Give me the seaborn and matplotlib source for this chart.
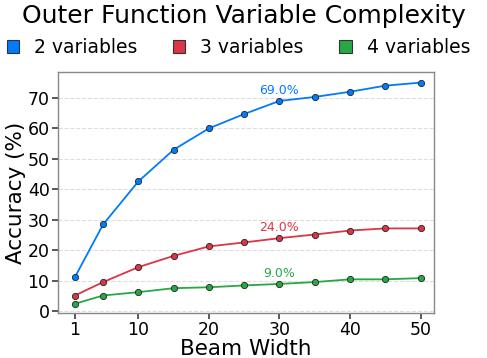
import matplotlib
matplotlib.use("Agg")
import matplotlib.pyplot as plt
import seaborn as sns
import pandas as pd
from matplotlib.patches import Patch

beam_width = [1, 5, 10, 15, 20, 25, 30, 35, 40, 45, 50]
vars2 = [11.2, 28.5, 42.6, 53.0, 60.0, 64.7, 69.0, 70.3, 72.0, 74.0, 75.0]
vars3 = [5.2, 9.6, 14.5, 18.2, 21.3, 22.6, 24.0, 25.2, 26.5, 27.2, 27.2]
vars4 = [2.5, 5.2, 6.3, 7.6, 7.9, 8.5, 9.0, 9.6, 10.5, 10.5, 10.9]
series_names = ["2 variables", "3 variables", "4 variables"]
colors = ["#007bff", "#dc3545", "#28a745"]
x_ticks = [1, 10, 20, 30, 40, 50]
annot_x = 30

sns.set_theme(style="white")
plt.rcParams['font.family'] = ['DejaVu Sans']
plt.rcParams['text.color'] = 'black'
plt.rcParams['axes.labelcolor'] = 'black'
plt.rcParams['xtick.color'] = 'black'
plt.rcParams['ytick.color'] = 'black'

df = pd.concat([
    pd.DataFrame({"Beam Width": beam_width, "Accuracy": v, "Series": n})
    for v, n in zip([vars2, vars3, vars4], series_names)
])

fig = plt.figure(figsize=(4.87, 3.58), dpi=100)
ax = fig.add_axes([0.119, 0.126, 0.772, 0.673])
palette = dict(zip(series_names, colors))
sns.lineplot(data=df, x="Beam Width", y="Accuracy", hue="Series", palette=palette,
             marker="o", markersize=4.5, markeredgecolor="#222222", markeredgewidth=0.6,
             linewidth=1.3, ax=ax, legend=False)

for vals, c in zip([vars2, vars3, vars4], colors):
    i = beam_width.index(annot_x)
    ax.annotate(f"{vals[i]:.1f}%", (annot_x, vals[i]), xytext=(0, 3), textcoords="offset points",
                ha="center", va="bottom", color=c, fontsize=9)

ax.set_xlim(-1.4, 51.9)
ax.set_ylim(-0.5, 78.5)
ax.set_xticks(x_ticks)
ax.set_yticks(range(0, 80, 10))
ax.tick_params(axis="both", labelsize=12.5, length=4, pad=2, color="#444444", bottom=True, left=True)
ax.yaxis.grid(True, linestyle="--", color="#dddddd", linewidth=0.8)
ax.xaxis.grid(False)
for s in ax.spines.values():
    s.set_color("#888888")
    s.set_linewidth(1.0)
ax.set_xlabel("Beam Width", fontsize=15.5, labelpad=0)
ax.set_ylabel("Accuracy (%)", fontsize=15.5, labelpad=1)

fig.suptitle("Outer Function Variable Complexity", fontsize=18, y=0.99)
handles = [Patch(facecolor=c, edgecolor="#333333", linewidth=0.8, label=n) for c, n in zip(colors, series_names)]
fig.legend(handles=handles, loc="upper center", bbox_to_anchor=(0.49, 0.915), ncol=3, frameon=False,
           fontsize=13.5, handlelength=0.65, handleheight=0.65, columnspacing=1.9, handletextpad=0.8,
           borderaxespad=0)

fig.savefig("out.png", dpi=100)
